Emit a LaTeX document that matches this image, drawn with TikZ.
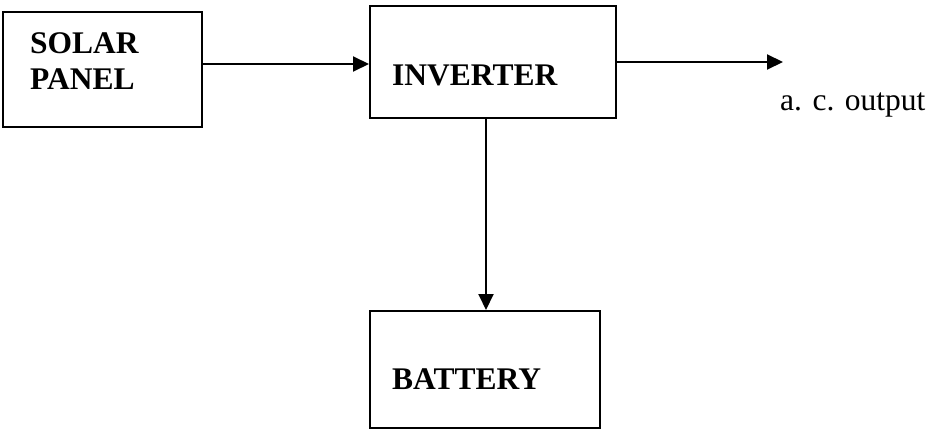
\documentclass[tikz,border=0pt]{standalone}
\usepackage{fontspec}
\setmainfont{Liberation Serif}
\usetikzlibrary{arrows.meta}
\tikzset{
  blockbox/.style={draw=black, line width=2pt, rectangle, inner sep=0pt},
  blocktext/.style={font=\fontsize{31.5}{36}\selectfont\bfseries, inner sep=0pt, align=left, anchor=base west},
  plaintext/.style={font=\fontsize{31.5}{36}\selectfont, inner sep=0pt, anchor=base west},
  arr/.style={line width=2pt, -{Triangle[length=16pt,width=15pt]}}
}
\begin{document}
\begin{tikzpicture}[x=1pt,y=-1pt]
\useasboundingbox[fill=white] (0,0) rectangle (926,431);
% boxes
\node[blockbox, minimum width=199pt, minimum height=115pt] (solar) at (102.5,69.5) {};
\node[blockbox, minimum width=246pt, minimum height=112pt] (inv) at (493,62) {};
\node[blockbox, minimum width=230pt, minimum height=117pt] (bat) at (485,369.5) {};
% texts
\node[blocktext] (solartxt) at (30,89) {SOLAR\\PANEL};
\node[blocktext] (invtxt) at (392,85) {INVERTER};
\node[blocktext] (battxt) at (392,389) {BATTERY};
\node[plaintext] (ac) at (780,110) {a. c. output};
% connectors
\coordinate (ya) at (0,64);
\coordinate (yb) at (0,62);
\coordinate (xc) at (486,0);
\coordinate (outend) at (783,62);
\draw[arr] (solar.east |- ya) -- (inv.west |- ya);
\draw[arr] (inv.east |- yb) -- (outend);
\draw[arr] (inv.south -| xc) -- (bat.north -| xc);
\end{tikzpicture}
\end{document}
